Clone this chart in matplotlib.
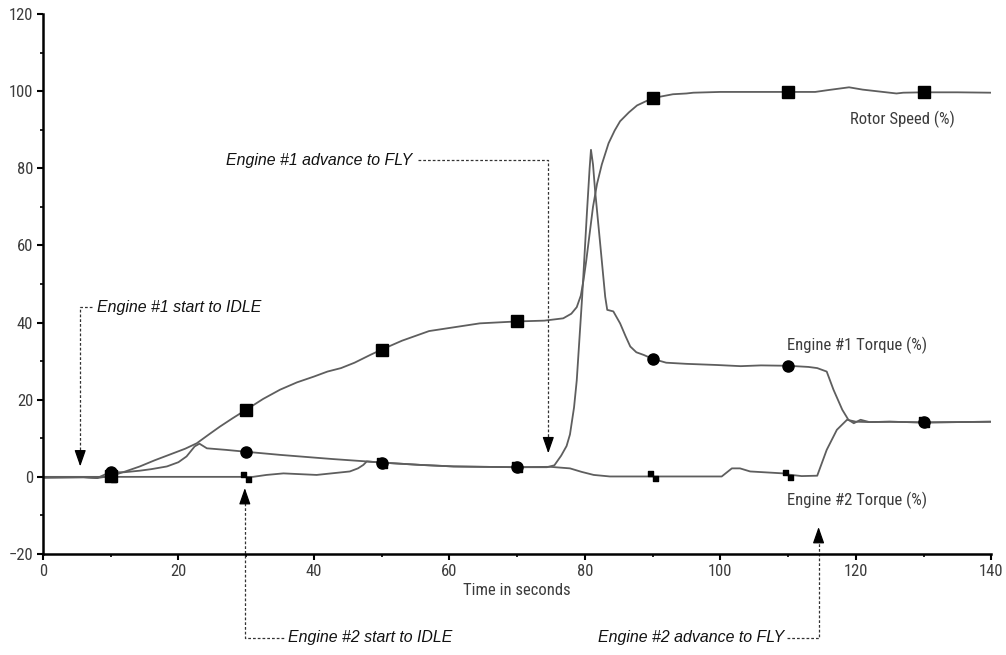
"""Engine start-up trace: rotor speed and engine torques vs time."""

import matplotlib

matplotlib.use("Agg")
import matplotlib.pyplot as plt
import numpy as np
from matplotlib import font_manager
from matplotlib.path import Path
from matplotlib.ticker import MultipleLocator


# Time (s) / value (%) pairs
rotor_t = [0, 6, 8, 10, 12, 14.3, 16.5, 19.2, 21, 22.7, 24.5, 26.1, 28, 30,
           32.5, 35, 37.5, 40, 42, 44, 46, 48.3, 50, 53, 57, 60, 64.5, 70,
           74, 76.8, 78, 78.8, 79.4, 79.8, 80.2, 80.7, 81.2, 81.8, 82.5, 83.5,
           84.4, 85.2, 86.5, 87.7, 90, 93, 95, 96, 100, 105, 110, 114, 116,
           119, 121, 124, 126, 127, 130, 135, 140]
rotor_v = [-0.2, -0.1, -0.3, 0.2, 1.3, 2.7, 4.3, 6.1, 7.3, 8.7, 11, 13, 15.2,
           17.4, 20.2, 22.6, 24.5, 26, 27.3, 28.2, 29.6, 31.6, 33, 35.3, 37.8,
           38.6, 39.8, 40.3, 40.5, 41.1, 42.3, 44.0, 47.0, 51, 56, 63, 70,
           76, 81, 86.5, 89.8, 92.2, 94.5, 96.3, 98.2, 99.2, 99.4, 99.6, 99.8,
           99.8, 99.8, 99.8, 100.3, 101.0, 100.4, 99.8, 99.4, 99.6, 99.7, 99.7,
           99.6]

eng1_t = [0, 6, 8, 9.4, 10, 12, 14.3, 16, 18.3, 20, 21.2, 22.4, 23.1, 24.2,
          27, 30, 35, 40, 42.9, 47.8, 50, 55.7, 60.6, 65, 70, 74.4, 75.5,
          76.5, 77.3, 77.8, 78.4, 78.8, 79.6, 80.3, 80.7, 80.9, 81.2, 81.5,
          82.3, 83, 83.3, 84.2, 85.2, 86, 86.7, 87.6, 88.7, 90, 92, 95, 99.5,
          103, 106, 110, 113, 114.3, 115.7, 116.7, 118, 118.9, 119.7, 120.7,
          122, 125, 130, 135, 140]
eng1_v = [-0.2, -0.1, -0.3, 0.8, 1.2, 1.2, 1.6, 2.0, 2.7, 3.8, 5.3, 7.9, 8.6,
          7.4, 7.0, 6.5, 5.7, 5.0, 4.6, 4.0, 3.7, 3.1, 2.7, 2.6, 2.5, 2.5,
          3.0, 5.5, 8.0, 11, 18, 25, 46.7, 68.4, 80, 84.8, 81, 74.4, 59.7,
          46.7, 43.3, 42.9, 39.8, 36.5, 33.8, 32.3, 31.6, 30.6, 29.6, 29.3,
          29.0, 28.7, 28.9, 28.8, 28.5, 28.2, 27.3, 22.6, 17.4, 14.8, 13.9,
          14.8, 14.2, 14.3, 14.1, 14.2, 14.3]

eng2_t = [0, 30, 31, 33, 35.5, 40.4, 45.3, 46.5, 47.3, 47.8, 50, 55.7, 60.6,
          65, 70, 74.9, 77.8, 79.5, 81.3, 83.7, 90, 100.2, 101.7, 102.9,
          104.4, 109.3, 110, 112, 114.3, 115.7, 117.2, 118.7, 119.5, 120,
          122, 125, 130, 135, 140]
eng2_v = [0, 0, 0, 0.5, 0.9, 0.5, 1.4, 2.2, 3.1, 4.0, 3.7, 3.1, 2.7, 2.6, 2.5,
          2.6, 2.2, 1.3, 0.5, 0.1, 0.1, 0.1, 2.2, 2.2, 1.4, 0.9, 0.6, 0.2, 0.3,
          7.0, 12.2, 14.8, 14.5, 14.3, 14.2, 14.3, 14.1, 14.2, 14.3]

marker_t = [10, 30, 50, 70, 90, 110, 130]

series_labels = ["Rotor Speed (%)", "Engine #1 Torque (%)", "Engine #2 Torque (%)"]
events = ["Engine #1 start to IDLE", "Engine #1 advance to FLY",
          "Engine #2 start to IDLE", "Engine #2 advance to FLY"]


def pick_font(names):
    available = {f.name for f in font_manager.fontManager.ttflist}
    for name in names:
        if name in available:
            return name
    return "DejaVu Sans"


NARROW = pick_font(["Liberation Sans Narrow", "Roboto Condensed", "Liberation Sans"])
ITALIC = pick_font(["Liberation Sans", "Arimo", "DejaVu Sans"])

LINE = "#5e5e5e"
TEXT = "#3c3c3c"

# two small squares offset on a diagonal, as on the engine #2 trace
pair_marker = Path(
    [(-1, 0), (0, 0), (0, 1), (-1, 1), (-1, 0),
     (0, -1), (1, -1), (1, 0), (0, 0), (0, -1)],
    [Path.MOVETO, Path.LINETO, Path.LINETO, Path.LINETO, Path.CLOSEPOLY,
     Path.MOVETO, Path.LINETO, Path.LINETO, Path.LINETO, Path.CLOSEPOLY],
)

fig = plt.figure(figsize=(10.06, 6.55), dpi=100)
ax = fig.add_axes([0.0427, 0.1542, 0.9427, 0.8244])

ax.plot(eng2_t, eng2_v, color=LINE, lw=1.3)
ax.plot(eng1_t, eng1_v, color=LINE, lw=1.3)
ax.plot(rotor_t, rotor_v, color=LINE, lw=1.3)

ax.plot(marker_t, np.interp(marker_t, eng2_t, eng2_v), ls="none",
        marker=pair_marker, ms=7, color="black")
ax.plot(marker_t, np.interp(marker_t, eng1_t, eng1_v), ls="none",
        marker="o", ms=8, color="black")
ax.plot(marker_t, np.interp(marker_t, rotor_t, rotor_v), ls="none",
        marker="s", ms=8.5, color="black")

label_kw = dict(fontfamily=NARROW, fontsize=12, color=TEXT, va="center")
ax.text(119.2, 92.6, series_labels[0], **label_kw)
ax.text(109.8, 34.2, series_labels[1], **label_kw)
ax.text(109.8, -6.0, series_labels[2], **label_kw)

# event call-outs: dashed elbow leader and a filled arrowhead
dash = dict(color="#333333", lw=0.9, ls=(0, (2.2, 1.6)), clip_on=False)
head = dict(arrowstyle="-|>,head_length=1.0,head_width=0.35", color="black",
            lw=0.9, shrinkA=0, shrinkB=0, mutation_scale=10)
ev_kw = dict(fontfamily=ITALIC, fontstyle="italic", fontsize=11.4,
             color="#111111", va="center")

# Engine #1 start to IDLE
ax.plot([7.2, 5.5, 5.5], [44.0, 44.0, 6.6], **dash)
ax.annotate("", xy=(5.5, 2.7), xytext=(5.5, 6.8), arrowprops=head)
ax.text(8.0, 44.0, events[0], **ev_kw)

# Engine #1 advance to FLY
ax.plot([55.3, 74.6, 74.6], [82.2, 82.2, 9.6], **dash)
ax.annotate("", xy=(74.6, 6.1), xytext=(74.6, 9.8), arrowprops=head)
ax.text(54.5, 82.0, events[1], ha="right", **ev_kw)

# Engine #2 start to IDLE
ax.plot([29.8, 29.8, 35.6], [-6.7, -41.7, -41.7], **dash)
ax.annotate("", xy=(29.8, -2.9), xytext=(29.8, -6.9), arrowprops=head)
ax.text(36.2, -41.7, events[2], **ev_kw)

# Engine #2 advance to FLY
ax.plot([109.8, 114.5, 114.5], [-41.7, -41.7, -16.3], **dash)
ax.annotate("", xy=(114.5, -13.0), xytext=(114.5, -16.5), arrowprops=head)
ax.text(109.4, -41.7, events[3], ha="right", **ev_kw)

ax.set_xlim(0, 140)
ax.set_ylim(-20, 120)
ax.xaxis.set_major_locator(MultipleLocator(20))
ax.xaxis.set_minor_locator(MultipleLocator(10))
ax.yaxis.set_major_locator(MultipleLocator(20))
ax.yaxis.set_minor_locator(MultipleLocator(10))

for side in ("top", "right"):
    ax.spines[side].set_visible(False)
for side in ("left", "bottom"):
    ax.spines[side].set_linewidth(1.8)
    ax.spines[side].set_color("black")

ax.tick_params(which="major", direction="out", length=4, width=1.5,
               pad=3, labelsize=12, labelcolor=TEXT)
ax.tick_params(which="minor", direction="out", length=2, width=1.2)
for lab in ax.get_xticklabels() + ax.get_yticklabels():
    lab.set_fontfamily(NARROW)

ax.set_xlabel("Time in seconds", fontfamily=NARROW, fontsize=12, color=TEXT,
              labelpad=3)

fig.savefig("out.png", dpi=100)
